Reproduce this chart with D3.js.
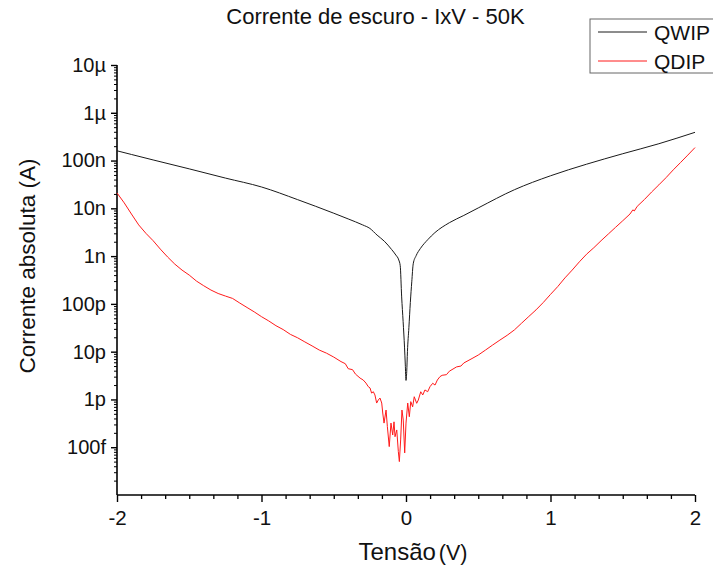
<!DOCTYPE html>
<html>
<head>
<meta charset="utf-8">
<script src="https://cdn.jsdelivr.net/npm/d3@7"></script>
<style>
  html, body { margin: 0; padding: 0; background: #fff; }
  svg { display: block; font-family: "Liberation Sans", Arial, sans-serif; }
</style>
</head>
<body>
<svg id="chart" width="713" height="568"></svg>
<script>
// ---------------- data ----------------
const title = "Corrente de escuro - IxV - 50K";
const seriesNames = ["QWIP", "QDIP"];
const seriesColors = ["#1a1a1a", "#ff1a1a"];

const xTickValues = [-2, -1, 0, 1, 2];
const xTickLabels = ["-2", "-1", "0", "1", "2"];
const yTickValues = [1e-13, 1e-12, 1e-11, 1e-10, 1e-9, 1e-8, 1e-7, 1e-6, 1e-5];
const yTickLabels = ["100f", "1p", "10p", "100p", "1n", "10n", "100n", "1µ", "10µ"];

const qwipV = [-2.0, -1.9, -1.75, -1.5, -1.25, -1.0, -0.75, -0.5, -0.4, -0.3, -0.25, -0.2, -0.15, -0.1, -0.07,
  -0.05, -0.04, -0.03, -0.02, -0.01, -0.005, 0, 0.005, 0.01, 0.02, 0.03, 0.04, 0.05, 0.07, 0.1, 0.15, 0.2,
  0.3, 0.4, 0.5, 0.75, 1.0, 1.25, 1.5, 1.75, 2.0];
const qwipI = [1.6e-7, 1.34e-7, 1.03e-7, 6.7e-8, 4.3e-8, 2.8e-8, 1.52e-8, 7.9e-9, 6.0e-9, 4.5e-9, 3.8e-9, 2.75e-9, 2.05e-9, 1.38e-9, 1.05e-9,
  8.3e-10, 6.3e-10, 1.4e-10, 4.3e-11, 1.2e-11, 5.5e-12, 2.5e-12, 3.8e-12, 1.0e-11, 3.2e-11, 1.07e-10, 2.9e-10, 6.9e-10, 1.02e-9, 1.45e-9, 2.2e-9, 3.1e-9,
  5.0e-9, 7.1e-9, 1.02e-8, 2.45e-8, 4.8e-8, 8.4e-8, 1.39e-7, 2.25e-7, 3.9e-7];

const qdipV = [-2.0, -1.95, -1.9, -1.85, -1.8, -1.75, -1.7, -1.65, -1.6, -1.55, -1.5, -1.45, -1.4, -1.35, -1.3, -1.25,
  -1.2, -1.15, -1.1, -1.05, -1.0, -0.95, -0.9, -0.85, -0.8, -0.75, -0.7, -0.65, -0.6, -0.55, -0.5, -0.45, -0.42, -0.4, -0.37, -0.35,
  -0.318, -0.296, -0.277, -0.261, -0.249, -0.238, -0.226, -0.215, -0.203, -0.192, -0.180, -0.168, -0.161, -0.152,
  -0.138, -0.129, -0.116, -0.104, -0.092, -0.083, -0.076, -0.064, -0.053, -0.046, -0.037, -0.028, -0.019, -0.009,
  0.000, 0.012, 0.023, 0.033, 0.046, 0.057, 0.074, 0.085, 0.102, 0.116, 0.131, 0.150, 0.166, 0.185, 0.201, 0.217, 0.235,
  0.25, 0.28, 0.3, 0.35, 0.38, 0.4, 0.45, 0.5, 0.55, 0.6, 0.65, 0.7, 0.75, 0.8, 0.85, 0.9, 0.95, 1.0, 1.05, 1.1, 1.15, 1.2,
  1.25, 1.3, 1.35, 1.4, 1.45, 1.5, 1.55, 1.57, 1.58, 1.6, 1.65, 1.7, 1.75, 1.8, 1.85, 1.9, 1.95, 2.0];
const qdipI = [2.1e-8, 1.3e-8, 7.6e-9, 4.5e-9, 3.0e-9, 2.1e-9, 1.4e-9, 9.6e-10, 6.8e-10, 5.1e-10, 4.0e-10, 3.0e-10, 2.4e-10, 1.95e-10, 1.65e-10, 1.46e-10,
  1.3e-10, 1.04e-10, 8.4e-11, 6.8e-11, 5.4e-11, 4.4e-11, 3.5e-11, 2.9e-11, 2.3e-11, 1.95e-11, 1.6e-11, 1.32e-11, 1.08e-11, 9.3e-12, 7.7e-12, 6.2e-12, 5.6e-12, 4.4e-12, 4.2e-12, 3.4e-12,
  2.8e-12, 2.55e-12, 2.2e-12, 1.85e-12, 1.74e-12, 1.36e-12, 1.45e-12, 1.24e-12, 8.4e-13, 9.7e-13, 1.07e-12, 8.4e-13, 5.2e-13, 3.2e-13,
  6.0e-13, 2.7e-13, 1.03e-13, 3.2e-13, 1.8e-13, 3.4e-13, 1.66e-13, 2.3e-13, 8.1e-14, 5.0e-14, 1.42e-13, 6.0e-13, 3.7e-13, 7.6e-14,
  3.2e-13, 8.4e-13, 4.35e-13, 9.0e-13, 7.0e-13, 1.14e-12, 8.3e-13, 9.7e-13, 1.45e-12, 1.24e-12, 1.58e-12, 1.45e-12, 1.85e-12, 2.18e-12, 2.0e-12, 2.55e-12, 3.0e-12,
  3.2e-12, 3.3e-12, 3.9e-12, 4.8e-12, 5.0e-12, 5.8e-12, 7.0e-12, 8.5e-12, 1.08e-11, 1.38e-11, 1.75e-11, 2.2e-11, 2.85e-11, 3.95e-11, 5.45e-11, 7.5e-11, 1.07e-10, 1.58e-10, 2.3e-10, 3.5e-10, 5.1e-10, 7.6e-10,
  1.1e-9, 1.5e-9, 2.1e-9, 2.9e-9, 4.0e-9, 5.5e-9, 7.6e-9, 9.3e-9, 8.8e-9, 1.1e-8, 1.53e-8, 2.2e-8, 3.1e-8, 4.4e-8, 6.4e-8, 9.1e-8, 1.3e-7, 1.87e-7];

// ---------------- chart ----------------
const svg = d3.select("#chart");
const mLeft = 117, mRight = 695, mTop = 65, mBottom = 495;

const x = d3.scaleLinear().domain([-2, 2]).range([mLeft, mRight]);
const y = d3.scaleLog().domain([1e-14, 1e-5]).range([mBottom, mTop]);

// title
svg.append("text").attr("x", 375.5).attr("y", 24).attr("text-anchor", "middle")
  .attr("font-size", 22).attr("fill", "#111").text(title);

// minor y ticks
const yMinor = y.ticks().filter(v => Math.abs(Math.log10(v) - Math.round(Math.log10(v))) > 1e-6);
svg.append("g").attr("transform", `translate(${mLeft},0)`)
  .call(d3.axisLeft(y).tickValues(yMinor).tickSize(3).tickFormat(""))
  .call(g => g.select(".domain").remove())
  .call(g => g.selectAll("line").attr("stroke", "#000").attr("stroke-width", 1));

// major y axis
svg.append("g").attr("transform", `translate(${mLeft},0)`)
  .call(d3.axisLeft(y).tickValues(yTickValues).tickSize(6).tickPadding(5)
    .tickFormat((d, i) => yTickLabels[i]))
  .call(g => g.select(".domain").attr("stroke-width", 1.6).attr("d", `M0,${mTop}V${mBottom}`))
  .call(g => g.selectAll("line").attr("stroke-width", 1.4))
  .call(g => g.selectAll("text").attr("font-size", 20).attr("fill", "#111")
    .attr("font-family", "'Liberation Sans', Arial, sans-serif"));

// minor x ticks
const xMinor = d3.range(-12, 13).filter(k => k % 6 !== 0).map(k => k / 6);
svg.append("g").attr("transform", `translate(0,${mBottom})`)
  .call(d3.axisBottom(x).tickValues(xMinor).tickSize(4).tickFormat(""))
  .call(g => g.select(".domain").remove())
  .call(g => g.selectAll("line").attr("stroke-width", 1.3));

// major x axis
svg.append("g").attr("transform", `translate(0,${mBottom})`)
  .call(d3.axisBottom(x).tickValues(xTickValues).tickSize(7).tickPadding(8)
    .tickFormat((d, i) => xTickLabels[i]))
  .call(g => g.select(".domain").attr("stroke-width", 1.6).attr("d", `M${mLeft},0H${mRight}`))
  .call(g => g.selectAll("line").attr("stroke-width", 1.4))
  .call(g => g.selectAll("text").attr("font-size", 20.5).attr("fill", "#111")
    .attr("font-family", "'Liberation Sans', Arial, sans-serif"));

// axis labels
const xl = svg.append("text").attr("x", 413).attr("y", 560).attr("text-anchor", "middle").attr("fill", "#111");
xl.append("tspan").attr("font-size", 24).text("Tensão");
xl.append("tspan").attr("font-size", 21.5).attr("dx", 3).text("(V)");

svg.append("text").attr("transform", "translate(35,266) rotate(-90)")
  .attr("text-anchor", "middle").attr("font-size", 22.5).attr("fill", "#111")
  .text("Corrente absoluta (A)");

// lines
const lineSmooth = d3.line().x(d => x(d[0])).y(d => y(d[1])).curve(d3.curveMonotoneX);
const lineRaw = d3.line().x(d => x(d[0])).y(d => y(d[1]));
const seriesData = [
  d3.zip(qwipV, qwipI),
  d3.zip(qdipV, qdipI)
];
seriesData.forEach((data, i) => {
  svg.append("path").datum(data).attr("fill", "none")
    .attr("stroke", seriesColors[i]).attr("stroke-width", 1)
    .attr("stroke-linejoin", "round").attr("d", i === 0 ? lineSmooth : lineRaw);
});

// legend
const lg = svg.append("g");
lg.append("rect").attr("x", 590).attr("y", 19).attr("width", 130).attr("height", 54)
  .attr("fill", "#fff").attr("stroke", "#666").attr("stroke-width", 1);
seriesNames.forEach((name, i) => {
  const ly = 32 + i * 29;
  lg.append("line").attr("x1", 598).attr("x2", 647).attr("y1", ly).attr("y2", ly)
    .attr("stroke", seriesColors[i]).attr("stroke-width", 1);
  lg.append("text").attr("x", 654).attr("y", ly + 7.5).attr("font-size", 21).attr("fill", "#111").text(name);
});
</script>
</body>
</html>
